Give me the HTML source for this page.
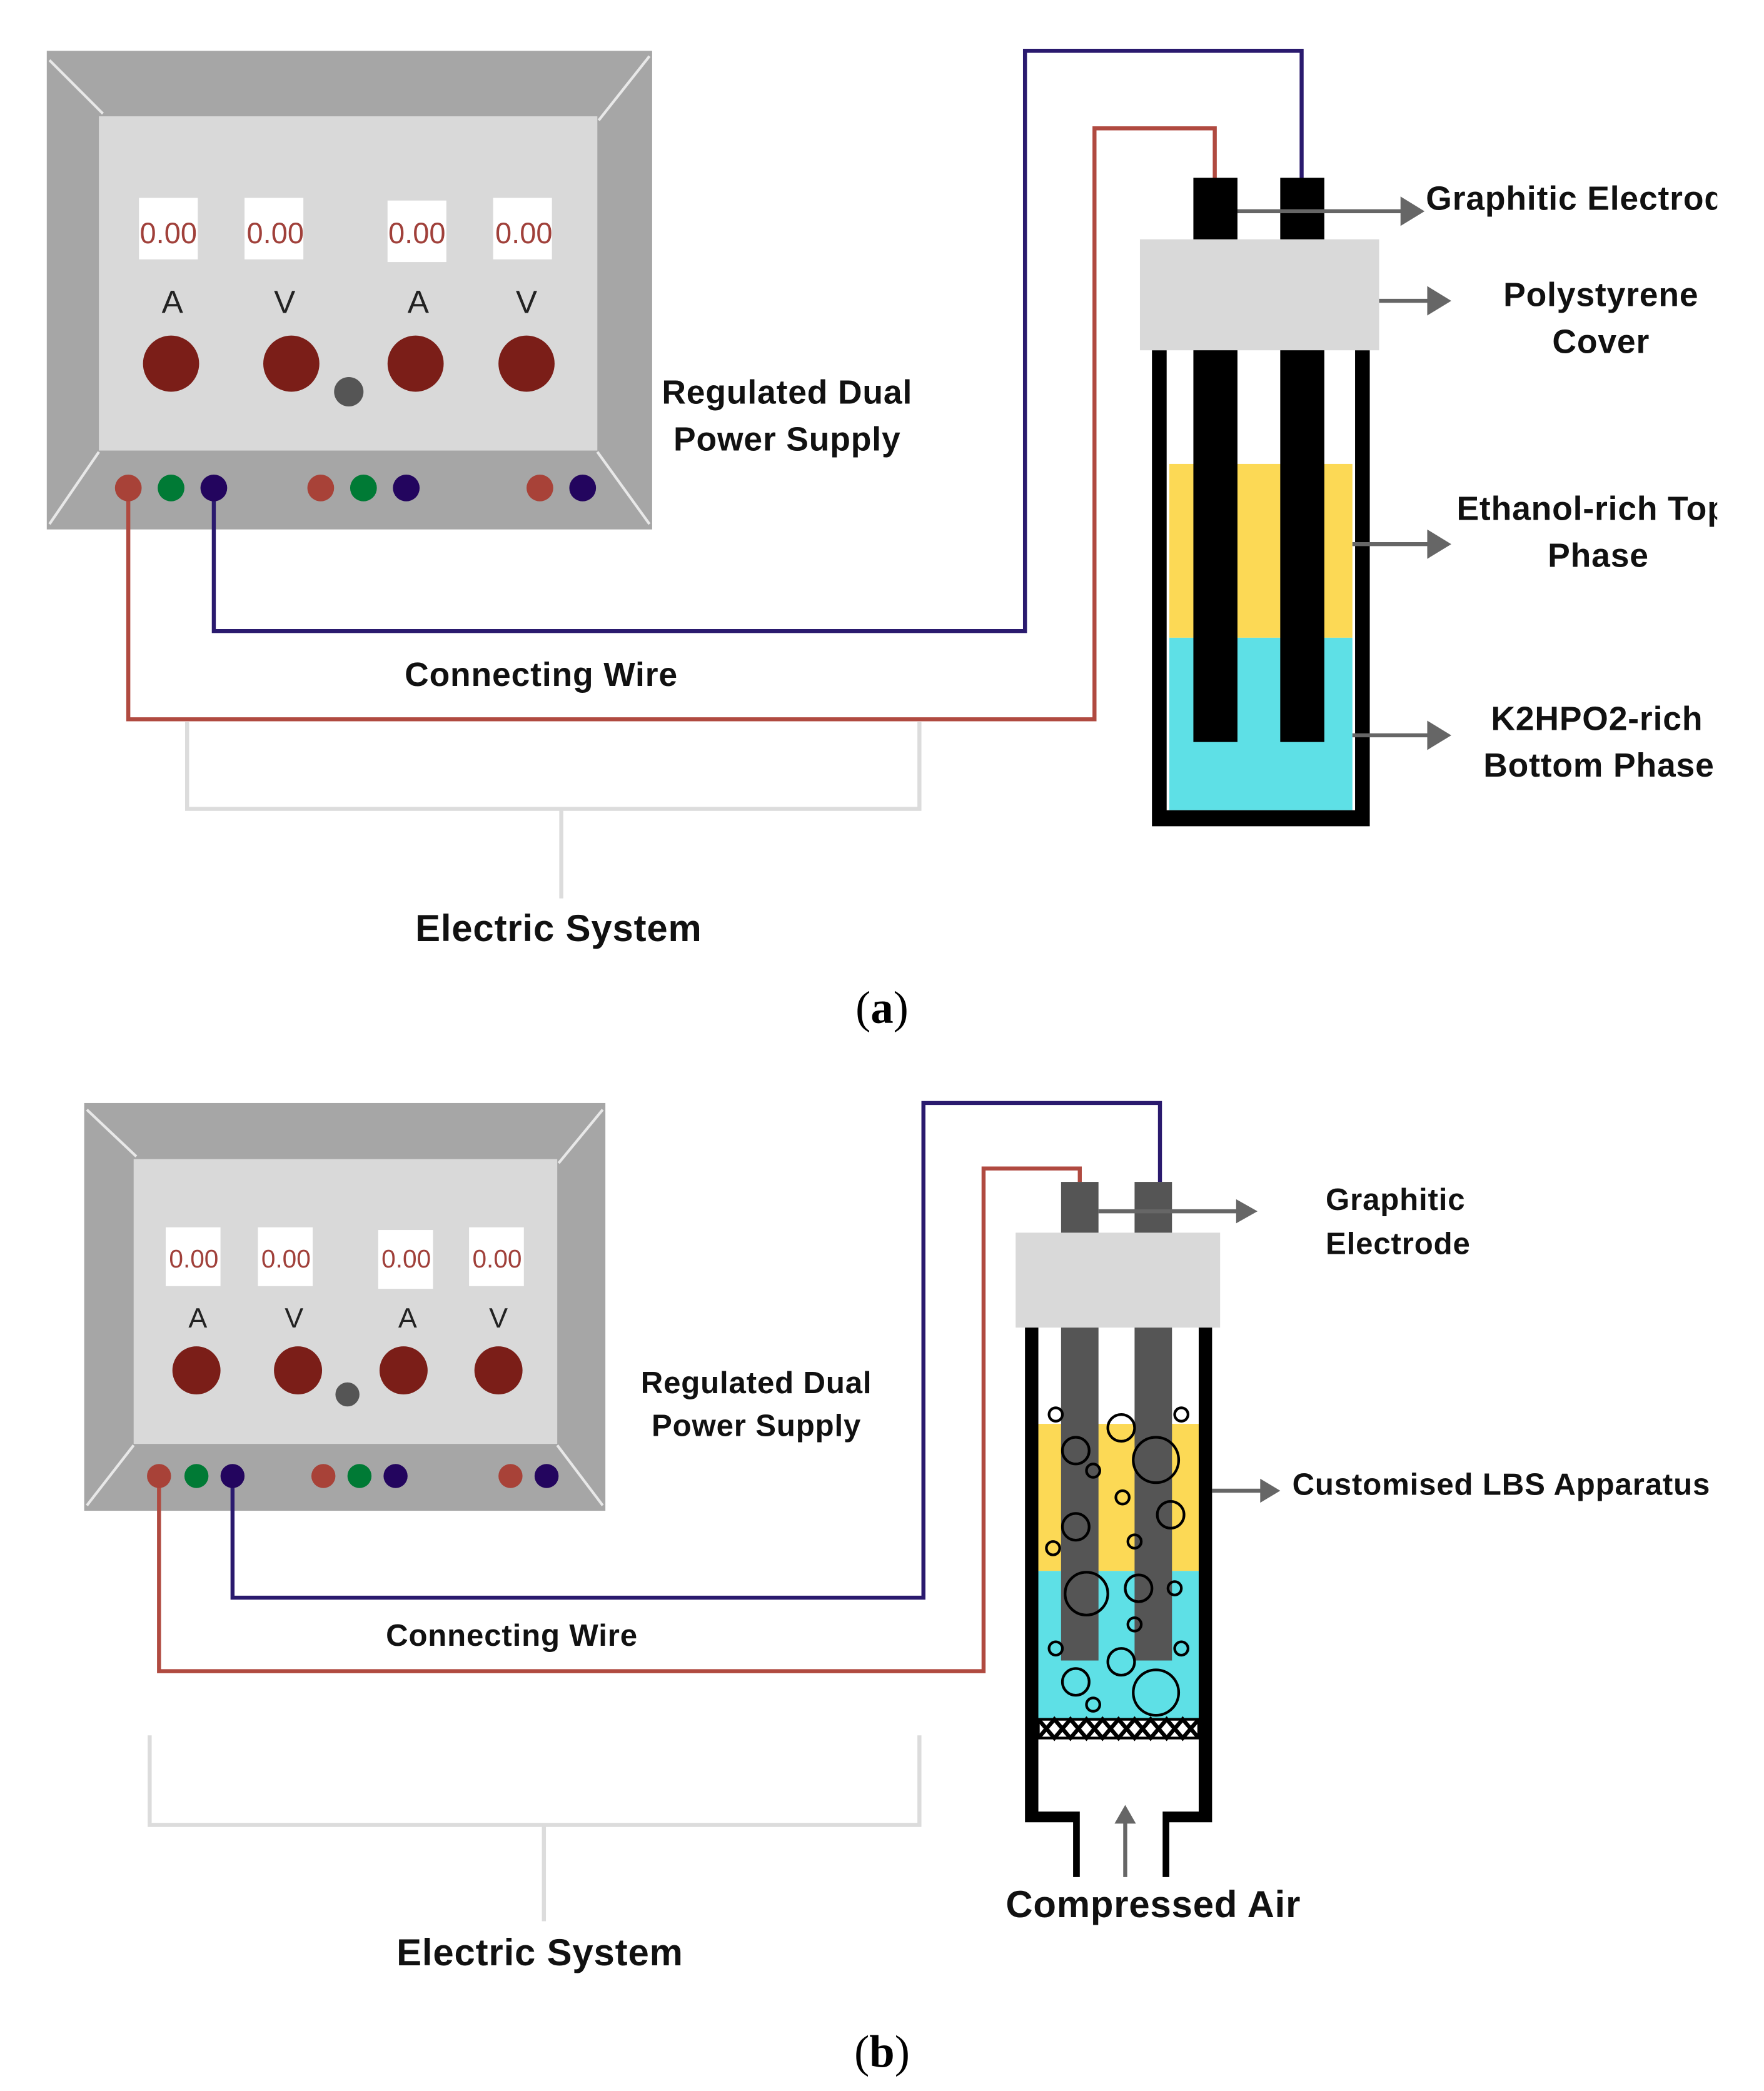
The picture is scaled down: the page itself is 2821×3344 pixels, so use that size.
<!DOCTYPE html>
<html><head><meta charset="utf-8">
<style>
html,body{margin:0;padding:0;background:#fff;}
svg{display:block;}
.lb{font-family:"Liberation Sans",sans-serif;font-weight:bold;fill:#111;letter-spacing:0.4px;}
.dg{font-family:"Liberation Sans",sans-serif;fill:#a0403a;}
.ml{font-family:"Liberation Sans",sans-serif;fill:#222;}
.cap{font-family:"Liberation Serif",serif;fill:#000;}
</style></head><body>
<svg width="2821" height="3344" viewBox="0 0 1320 1564" preserveAspectRatio="none" xmlns="http://www.w3.org/2000/svg">
<defs>
<clipPath id="rc"><rect x="0" y="0" width="1285" height="1564"/></clipPath>
</defs>

<!-- ========== PANEL A ========== -->
<rect x="35" y="38" width="453" height="358" fill="#a6a6a6"/>
<rect x="74" y="87" width="373" height="250" fill="#d9d9d9"/>
<g stroke="#e8e8e8" stroke-width="2">
<line x1="37" y1="45" x2="77" y2="85"/><line x1="486" y1="42" x2="448" y2="90"/>
<line x1="37" y1="392" x2="74" y2="338"/><line x1="486" y1="392" x2="447" y2="338"/>
</g>
<g fill="#fff"><rect x="104" y="148" width="44" height="46"/><rect x="183" y="148" width="44" height="46"/><rect x="290" y="150" width="44" height="46"/><rect x="369" y="148" width="44" height="46"/></g>
<g class="dg" font-size="22" text-anchor="middle"><text x="126" y="182">0.00</text><text x="206" y="182">0.00</text><text x="312" y="182">0.00</text><text x="392" y="182">0.00</text></g>
<g class="ml" font-size="24" text-anchor="middle"><text x="129" y="234">A</text><text x="213" y="234">V</text><text x="313" y="234">A</text><text x="394" y="234">V</text></g>
<g fill="#7b1e18"><circle cx="128" cy="272" r="21"/><circle cx="218" cy="272" r="21"/><circle cx="311" cy="272" r="21"/><circle cx="394" cy="272" r="21"/></g>
<circle cx="261" cy="293" r="11" fill="#555"/>
<polyline points="160,365 160,472 767,472 767,38 974,38 974,134" fill="none" stroke="#2a1a6e" stroke-width="3"/>
<polyline points="96,365 96,538 819,538 819,96 909,96 909,134" fill="none" stroke="#b04a40" stroke-width="3"/>
<g><circle cx="96" cy="365" r="10" fill="#a84238"/><circle cx="128" cy="365" r="10" fill="#007a35"/><circle cx="160" cy="365" r="10" fill="#23055e"/>
<circle cx="240" cy="365" r="10" fill="#a84238"/><circle cx="272" cy="365" r="10" fill="#007a35"/><circle cx="304" cy="365" r="10" fill="#23055e"/>
<circle cx="404" cy="365" r="10" fill="#a84238"/><circle cx="436" cy="365" r="10" fill="#23055e"/></g>
<text class="lb" font-size="25" x="589" y="302" text-anchor="middle">Regulated Dual</text>
<text class="lb" font-size="25" x="589" y="337" text-anchor="middle">Power Supply</text>
<text class="lb" font-size="25" x="405" y="513" text-anchor="middle">Connecting Wire</text>
<polyline points="140,540 140,605 688,605 688,540" fill="none" stroke="#dcdcdc" stroke-width="3"/>
<line x1="420" y1="605" x2="420" y2="672" stroke="#dcdcdc" stroke-width="3"/>
<text class="lb" font-size="28" x="418" y="704" text-anchor="middle">Electric System</text>

<rect x="875" y="347" width="137" height="130" fill="#fcd955"/>
<rect x="875" y="477" width="137" height="129" fill="#5ee0e6"/>
<path d="M862,262 H873 V606 H1014 V262 H1025 V618 H862 Z" fill="#000"/>
<rect x="893" y="133" width="33" height="422" fill="#000"/>
<rect x="958" y="133" width="33" height="422" fill="#000"/>
<rect x="853" y="179" width="179" height="83" fill="#d9d9d9"/>
<g stroke="#666" stroke-width="3" fill="#666">
<line x1="926" y1="158" x2="1050" y2="158"/><polygon points="1048,147 1066,158 1048,169" stroke="none"/>
<line x1="1032" y1="225" x2="1070" y2="225"/><polygon points="1068,214 1086,225 1068,236" stroke="none"/>
<line x1="1012" y1="407" x2="1070" y2="407"/><polygon points="1068,396 1086,407 1068,418" stroke="none"/>
<line x1="1012" y1="550" x2="1070" y2="550"/><polygon points="1068,539 1086,550 1068,561" stroke="none"/>
</g>
<g clip-path="url(#rc)" class="lb" font-size="25">
<text x="1067" y="157">Graphitic Electrode</text>
<text x="1198" y="229" text-anchor="middle">Polystyrene</text>
<text x="1198" y="264" text-anchor="middle">Cover</text>
<text x="1090" y="389">Ethanol-rich Top</text>
<text x="1196" y="424" text-anchor="middle">Phase</text>
<text x="1195" y="546" text-anchor="middle">K2HPO2-rich</text>
<text x="1110" y="581">Bottom Phase</text>
</g>
<text class="cap" font-size="34" x="660" y="765" text-anchor="middle">(<tspan font-weight="bold">a</tspan>)</text>

<!-- ========== PANEL B ========== -->
<rect x="63" y="825" width="390" height="305" fill="#a6a6a6"/>
<rect x="100" y="867" width="317" height="213" fill="#d9d9d9"/>
<g stroke="#e8e8e8" stroke-width="2">
<line x1="65" y1="830" x2="102" y2="865"/><line x1="451" y1="830" x2="418" y2="870"/>
<line x1="65" y1="1126" x2="100" y2="1081"/><line x1="451" y1="1126" x2="417" y2="1081"/>
</g>
<g fill="#fff"><rect x="124" y="918" width="41" height="44"/><rect x="193" y="918" width="41" height="44"/><rect x="283" y="920" width="41" height="44"/><rect x="351" y="918" width="41" height="44"/></g>
<g class="dg" font-size="19" text-anchor="middle"><text x="145" y="948">0.00</text><text x="214" y="948">0.00</text><text x="304" y="948">0.00</text><text x="372" y="948">0.00</text></g>
<g class="ml" font-size="21" text-anchor="middle"><text x="148" y="993">A</text><text x="220" y="993">V</text><text x="305" y="993">A</text><text x="373" y="993">V</text></g>
<g fill="#7b1e18"><circle cx="147" cy="1025" r="18"/><circle cx="223" cy="1025" r="18"/><circle cx="302" cy="1025" r="18"/><circle cx="373" cy="1025" r="18"/></g>
<circle cx="260" cy="1043" r="9" fill="#555"/>
<polyline points="174,1104 174,1195 691,1195 691,825 868,825 868,884" fill="none" stroke="#2a1a6e" stroke-width="3"/>
<polyline points="119,1104 119,1250 736,1250 736,874 808,874 808,884" fill="none" stroke="#b04a40" stroke-width="3"/>
<g><circle cx="119" cy="1104" r="9" fill="#a84238"/><circle cx="147" cy="1104" r="9" fill="#007a35"/><circle cx="174" cy="1104" r="9" fill="#23055e"/>
<circle cx="242" cy="1104" r="9" fill="#a84238"/><circle cx="269" cy="1104" r="9" fill="#007a35"/><circle cx="296" cy="1104" r="9" fill="#23055e"/>
<circle cx="382" cy="1104" r="9" fill="#a84238"/><circle cx="409" cy="1104" r="9" fill="#23055e"/></g>
<text class="lb" font-size="23" x="566" y="1042" text-anchor="middle">Regulated Dual</text>
<text class="lb" font-size="23" x="566" y="1074" text-anchor="middle">Power Supply</text>
<text class="lb" font-size="23" x="383" y="1231" text-anchor="middle">Connecting Wire</text>
<polyline points="112,1298 112,1365 688,1365 688,1298" fill="none" stroke="#dcdcdc" stroke-width="3"/>
<line x1="407" y1="1365" x2="407" y2="1437" stroke="#dcdcdc" stroke-width="3"/>
<text class="lb" font-size="28" x="404" y="1470" text-anchor="middle">Electric System</text>

<rect x="777" y="1065" width="120" height="110" fill="#fcd955"/>
<rect x="777" y="1175" width="120" height="110" fill="#5ee0e6"/>
<rect x="794" y="884" width="28" height="358" fill="#555"/>
<rect x="849" y="884" width="28" height="358" fill="#555"/>
<rect x="760" y="922" width="153" height="71" fill="#d9d9d9"/>
<g fill="none" stroke="#000" stroke-width="2">
<circle cx="790" cy="1058" r="5"/><circle cx="839" cy="1068" r="10"/><circle cx="884" cy="1058" r="5"/>
<circle cx="805" cy="1085" r="10"/><circle cx="818" cy="1100" r="5"/><circle cx="865" cy="1092" r="17"/>
<circle cx="840" cy="1120" r="5"/><circle cx="876" cy="1133" r="10"/><circle cx="805" cy="1142" r="10"/>
<circle cx="788" cy="1158" r="5"/><circle cx="849" cy="1153" r="5"/><circle cx="813" cy="1192" r="16"/>
<circle cx="852" cy="1188" r="10"/><circle cx="879" cy="1188" r="5"/><circle cx="849" cy="1215" r="5"/>
<circle cx="790" cy="1233" r="5"/><circle cx="839" cy="1243" r="10"/><circle cx="884" cy="1233" r="5"/>
<circle cx="805" cy="1258" r="10"/><circle cx="818" cy="1275" r="5"/><circle cx="865" cy="1266" r="17"/>
</g>
<rect x="777" y="1286" width="120" height="14" fill="#fff" stroke="#000" stroke-width="2"/>
<path d="M777,1286 L789,1300 L801,1286 L813,1300 L825,1286 L837,1300 L849,1286 L861,1300 L873,1286 L885,1300 L897,1286 M777,1300 L789,1286 L801,1300 L813,1286 L825,1300 L837,1286 L849,1300 L861,1286 L873,1300 L885,1286 L897,1300" fill="none" stroke="#000" stroke-width="3"/>
<path d="M767,993 H777 V1355 H808 V1404 H803 V1363 H767 Z" fill="#000"/>
<path d="M897,993 H907 V1363 H875 V1404 H870 V1355 H897 Z" fill="#000"/>
<g stroke="#666" stroke-width="3" fill="#666">
<line x1="842" y1="1404" x2="842" y2="1362"/><polygon points="834,1364 842,1350 850,1364" stroke="none"/>
<line x1="822" y1="906" x2="927" y2="906"/><polygon points="925,897 941,906 925,915" stroke="none"/>
<line x1="907" y1="1115" x2="945" y2="1115"/><polygon points="943,1106 958,1115 943,1124" stroke="none"/>
</g>
<text class="lb" font-size="23" x="992" y="905">Graphitic</text>
<text class="lb" font-size="23" x="992" y="938">Electrode</text>
<text class="lb" font-size="23" x="967" y="1118">Customised LBS Apparatus</text>
<text class="lb" font-size="28" x="863" y="1434" text-anchor="middle">Compressed Air</text>
<text class="cap" font-size="34" x="660" y="1546" text-anchor="middle">(<tspan font-weight="bold">b</tspan>)</text>
</svg>
</body></html>
